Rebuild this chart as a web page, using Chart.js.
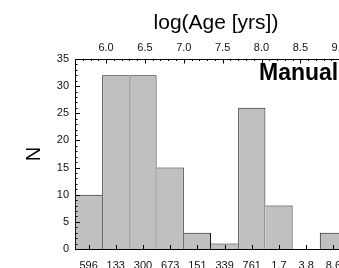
<!DOCTYPE html>
<html>
<head>
<meta charset="utf-8">
<script src="https://cdn.jsdelivr.net/npm/chart.js@4.4.1/dist/chart.umd.min.js"></script>
<style>
  html, body { margin: 0; padding: 0; background: #fff; overflow: hidden; }
  #wrap { position: relative; width: 339px; height: 268px; overflow: hidden; }
  #wrap canvas { position: absolute; left: 0; top: 0; }
</style>
</head>
<body>
<div id="wrap"><canvas id="hist" width="432" height="272"></canvas></div>
<script>
// bin centres (linear age, shown under each bar) and counts per bin
const ageLabels = ['596', '133', '300', '673', '151', '339', '761', '1.7', '3.8', '8.6'];
const counts = [10, 32, 32, 15, 3, 1, 26, 8, 0, 3];
// top axis in log(age), bins of 0.35 dex starting at 5.6
const logAgeRange = [5.6, 9.1];
const logAgeTicks = [6.0, 6.5, 7.0, 7.5, 8.0, 8.5, 9.0];
const countTicks = [0, 5, 10, 15, 20, 25, 30, 35];

const FONT = 'Liberation Sans, Arial, Helvetica, sans-serif';

// IDL-style inward ticks (major + minor) drawn from the scales
const inwardTicks = {
    id: 'inwardTicks',
    afterDatasetsDraw(chart) {
        const { ctx, chartArea: a, scales } = chart;
        const px = v => Math.round(v) + 0.5;
        ctx.save();
        ctx.strokeStyle = '#000';
        ctx.lineWidth = 1;
        ctx.beginPath();

        // left axis: every 1, major every 5
        const y = scales.y;
        for (let v = y.min; v <= y.max; v += 1) {
            const yy = px(y.getPixelForValue(v));
            const len = v % 5 === 0 ? 5 : 2.5;
            ctx.moveTo(a.left, yy);
            ctx.lineTo(a.left + len, yy);
        }

        // top axis: every 0.1, major every 0.5
        const t = scales.x2;
        for (let k = Math.ceil(t.min * 10 - 1e-6); k <= Math.floor(t.max * 10 + 1e-6); k++) {
            const xx = px(t.getPixelForValue(k / 10));
            const len = k % 5 === 0 ? 4.5 : 2;
            ctx.moveTo(xx, a.top);
            ctx.lineTo(xx, a.top + len);
        }

        // bottom axis: one tick at each bin centre
        const b = scales.x;
        ageLabels.forEach((_, i) => {
            const xx = px(b.getPixelForValue(i));
            ctx.moveTo(xx, a.bottom);
            ctx.lineTo(xx, a.bottom - 4);
        });
        ctx.stroke();

        // panel label
        ctx.fillStyle = '#000';
        ctx.font = 'bold 23px ' + FONT;
        ctx.textAlign = 'left';
        ctx.textBaseline = 'alphabetic';
        ctx.fillText('Manual', a.left + 184, a.top + 21);
        ctx.restore();
    }
};

new Chart(document.getElementById('hist'), {
    type: 'bar',
    data: {
        labels: ageLabels,
        datasets: [{
            data: counts,
            backgroundColor: '#c0c0c0',
            borderColor: '#1a1a1a',
            // only the taller bar of each neighbouring pair draws the shared edge
            borderWidth: ctx => {
                const i = ctx.dataIndex, v = counts[i];
                const prev = i > 0 ? counts[i - 1] : -1;
                const next = i < counts.length - 1 ? counts[i + 1] : -1;
                return { top: 1, bottom: 0, left: prev <= v ? 1 : 0, right: next < v ? 1 : 0 };
            },
            borderSkipped: 'bottom',
            inflateAmount: 0,
            barPercentage: 1,
            categoryPercentage: 1
        }]
    },
    options: {
        responsive: false,
        animation: false,
        devicePixelRatio: 1,
        layout: { padding: 0 },
        plugins: {
            legend: { display: false },
            tooltip: { enabled: false },
            title: {
                display: true,
                text: 'log(Age [yrs])',
                color: '#000',
                font: { family: FONT, size: 21, weight: 'normal', lineHeight: 1 },
                padding: { top: 13, bottom: 2 }
            }
        },
        scales: {
            x: {
                position: 'bottom',
                grid: { display: false, drawTicks: false },
                border: { display: true, color: '#000', width: 1 },
                ticks: { color: '#111', font: { family: FONT, size: 11 }, padding: 10, maxRotation: 0, autoSkip: false },
                afterFit: s => { s.height = 23; }
            },
            x2: {
                type: 'linear',
                position: 'top',
                offset: false,
                bounds: 'data',
                min: logAgeRange[0],
                max: logAgeRange[1],
                grid: { display: false, drawTicks: false, offset: false },
                border: { display: true, color: '#000', width: 1 },
                afterBuildTicks: s => { s.ticks = logAgeTicks.map(v => ({ value: v })); },
                ticks: {
                    color: '#111',
                    font: { family: FONT, size: 11 },
                    padding: 4,
                    maxRotation: 0,
                    callback: v => Number(v).toFixed(1)
                },
                afterFit: s => { s.height = 23; }
            },
            y: {
                min: 0,
                max: 35,
                grid: { display: false, drawTicks: false },
                border: { display: true, color: '#000', width: 1 },
                afterBuildTicks: s => { s.ticks = countTicks.map(v => ({ value: v })); },
                ticks: { color: '#111', font: { family: FONT, size: 11 }, padding: 6 },
                title: {
                    display: true,
                    text: 'N',
                    color: '#000',
                    font: { family: 'Liberation Sans Narrow, ' + FONT, size: 20 },
                    padding: { top: 22, bottom: 0 }
                },
                afterFit: s => { s.width = 75; }
            },
            // empty right-hand frame, lies outside the visible crop
            yr: {
                type: 'linear',
                position: 'right',
                grid: { display: false, drawTicks: false },
                border: { display: false },
                ticks: { display: false },
                afterFit: s => { s.width = 85; }
            }
        }
    },
    plugins: [inwardTicks]
});
</script>
</body>
</html>
